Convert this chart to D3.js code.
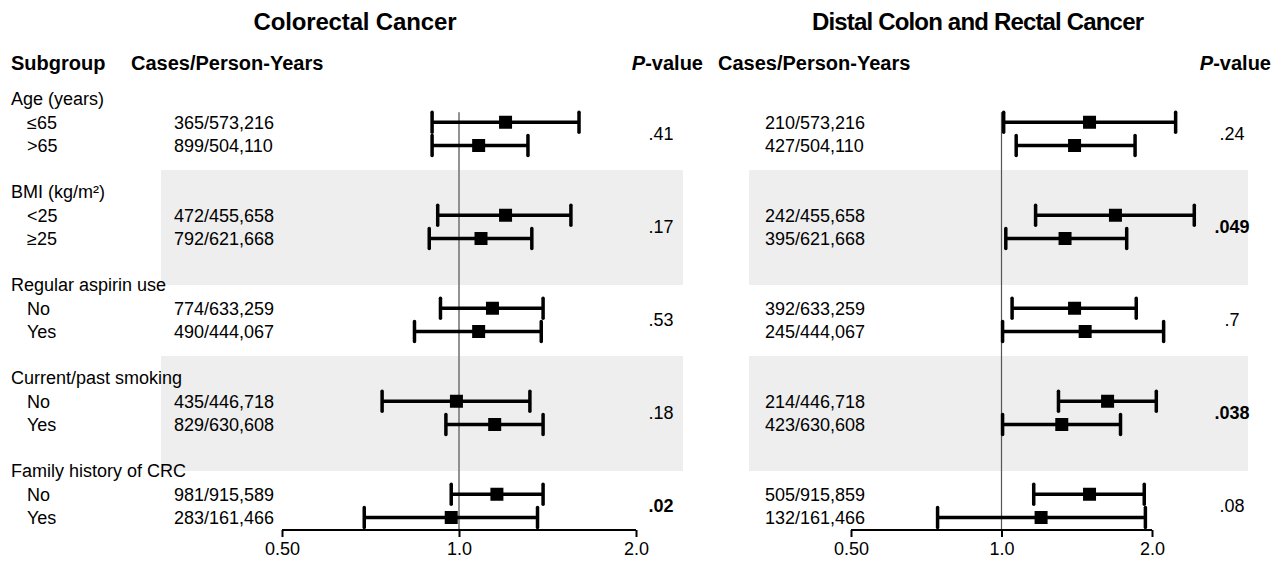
<!DOCTYPE html>
<html>
<head>
<meta charset="utf-8">
<script src="https://cdn.jsdelivr.net/npm/d3@7"></script>
<style>
    body { margin: 0; background: #fff; }
    svg text { font-family: "Liberation Sans", Arial, Helvetica, sans-serif; fill: #000; }
</style>
</head>
<body>
<div id="chart"></div>
<script>
// subgroup labels
var groupNames = ["Age (years)", "BMI (kg/m\u00b2)", "Regular aspirin use", "Current/past smoking", "Family history of CRC"];
var levelNames = [["\u226465", ">65"], ["<25", "\u226525"], ["No", "Yes"], ["No", "Yes"], ["No", "Yes"]];

// colorectal cancer
var crcCases = ["365/573,216", "899/504,110", "472/455,658", "792/621,668", "774/633,259",
    "490/444,067", "435/446,718", "829/630,608", "981/915,589", "283/161,466"];
var crcHR = [1.20, 1.08, 1.20, 1.09, 1.14, 1.08, 0.99, 1.15, 1.16, 0.97];
var crcLower = [0.90, 0.90, 0.92, 0.89, 0.93, 0.84, 0.74, 0.95, 0.97, 0.69];
var crcUpper = [1.60, 1.31, 1.55, 1.33, 1.39, 1.38, 1.32, 1.39, 1.39, 1.36];
var crcP = [".41", ".17", ".53", ".18", ".02"];
var crcPBold = [false, false, false, false, true];

// distal colon and rectal cancer
var distalCases = ["210/573,216", "427/504,110", "242/455,658", "395/621,668", "392/633,259",
    "245/444,067", "214/446,718", "423/630,608", "505/915,859", "132/161,466"];
var distalHR = [1.50, 1.40, 1.69, 1.34, 1.40, 1.47, 1.63, 1.32, 1.50, 1.20];
var distalLower = [1.01, 1.07, 1.17, 1.02, 1.05, 1.005, 1.30, 1.005, 1.16, 0.745];
var distalUpper = [2.23, 1.85, 2.43, 1.78, 1.86, 2.11, 2.04, 1.73, 1.93, 1.94];
var distalP = [".24", ".049", ".7", ".038", ".08"];
var distalPBold = [false, true, false, true, false];

var tickValues = [0.5, 1, 2];
var tickLabels = ["0.50", "1.0", "2.0"];

var width = 1277, height = 562;

var svg = d3.select("#chart").append("svg")
    .attr("width", width)
    .attr("height", height);

// every group takes 4 slots: header, two levels, gap
var y = d3.scaleLinear()
    .domain([0, 18])
    .range([99, 99 + 23.25 * 18]);

function levelSlot(i) {
    return Math.floor(i / 2) * 4 + 1 + (i % 2);
}

var axisY = 530;

// grey bands behind BMI and smoking groups
function drawBands(x0, x1) {
    [1, 3].forEach(function (g) {
        svg.append("rect")
            .attr("x", x0)
            .attr("y", y(g * 4) - 22)
            .attr("width", x1 - x0)
            .attr("height", y(g * 4 + 4) - y(g * 4) + 22)
            .style("fill", "#eeeeee");
    });
}
drawBands(161, 683);
drawBands(749, 1248);

// subgroup column
svg.append("text")
    .attr("x", 11).attr("y", 70)
    .style("font-size", "20px").style("font-weight", "bold")
    .text("Subgroup");

groupNames.forEach(function (name, g) {
    svg.append("text")
        .attr("x", 11)
        .attr("y", y(g * 4))
        .attr("dy", "0.35em")
        .style("font-size", "18px")
        .text(name);
    levelNames[g].forEach(function (lev, k) {
        svg.append("text")
            .attr("x", 27)
            .attr("y", y(g * 4 + 1 + k))
            .attr("dy", "0.35em")
            .style("font-size", "18px")
            .text(lev);
    });
});

function drawPanel(opts) {
    var x = d3.scaleLog()
        .domain([0.5, 2])
        .range(opts.range);

    svg.append("text")
        .attr("x", opts.titleX).attr("y", 30)
        .attr("text-anchor", "middle")
        .attr("textLength", opts.titleWidth)
        .style("font-size", "24px").style("font-weight", "bold")
        .text(opts.title);

    svg.append("text")
        .attr("x", opts.casesHeadX).attr("y", 70)
        .style("font-size", "20px").style("font-weight", "bold")
        .text("Cases/Person-Years");

    var pHead = svg.append("text")
        .attr("x", opts.pHeadX).attr("y", 70)
        .attr("text-anchor", "end")
        .style("font-size", "20px").style("font-weight", "bold");
    pHead.append("tspan").style("font-style", "italic").text("P");
    pHead.append("tspan").text("-value");

    // cases / person-years
    svg.selectAll(null)
        .data(opts.cases)
        .enter().append("text")
        .attr("x", opts.casesX)
        .attr("y", function (d, i) { return y(levelSlot(i)); })
        .attr("dy", "0.35em")
        .style("font-size", "18px")
        .text(function (d) { return d; });

    // p-values
    svg.selectAll(null)
        .data(opts.p)
        .enter().append("text")
        .attr("x", opts.pX)
        .attr("y", function (d, g) { return (y(g * 4 + 1) + y(g * 4 + 2)) / 2; })
        .attr("dy", "0.35em")
        .attr("text-anchor", "middle")
        .style("font-size", "18px")
        .style("font-weight", function (d, g) { return opts.pBold[g] ? "bold" : "normal"; })
        .text(function (d) { return d; });

    // reference line at 1
    svg.append("line")
        .attr("x1", x(1)).attr("x2", x(1))
        .attr("y1", y(1) - 10).attr("y2", axisY)
        .style("stroke", opts.refColor)
        .style("stroke-width", opts.refWidth);

    var rows = opts.hr.map(function (d, i) {
        return {hr: d, lo: opts.lower[i], hi: opts.upper[i], slot: levelSlot(i)};
    });

    var ci = svg.selectAll(null)
        .data(rows)
        .enter().append("g")
        .attr("transform", function (d) { return "translate(0," + y(d.slot) + ")"; });

    ci.append("line")
        .attr("x1", function (d) { return x(d.lo); })
        .attr("x2", function (d) { return x(d.hi); })
        .style("stroke", "#000").style("stroke-width", 3.5);

    ci.append("line")
        .attr("x1", function (d) { return x(d.lo); })
        .attr("x2", function (d) { return x(d.lo); })
        .attr("y1", -10).attr("y2", 10)
        .style("stroke", "#000").style("stroke-width", 3.5)
        .style("stroke-linecap", "round");

    ci.append("line")
        .attr("x1", function (d) { return x(d.hi); })
        .attr("x2", function (d) { return x(d.hi); })
        .attr("y1", -10).attr("y2", 10)
        .style("stroke", "#000").style("stroke-width", 3.5)
        .style("stroke-linecap", "round");

    ci.append("rect")
        .attr("x", function (d) { return x(d.hr) - 6.5; })
        .attr("y", -6.5)
        .attr("width", 13).attr("height", 13)
        .style("fill", "#000");

    // axis
    var axis = d3.axisBottom(x)
        .tickValues(tickValues)
        .tickSize(7)
        .tickFormat(function (d, i) { return tickLabels[i]; });

    var gAxis = svg.append("g")
        .attr("transform", "translate(0," + axisY + ")")
        .call(axis);
    gAxis.select(".domain")
        .attr("d", "M" + x(0.5) + ",0H" + x(2))
        .style("stroke", "#000").style("stroke-width", 2);
    gAxis.selectAll(".tick line").style("stroke", "#000").style("stroke-width", 2);
    gAxis.selectAll(".tick text")
        .attr("y", 12)
        .style("font-size", "18px")
        .style("font-family", "'Liberation Sans', Arial, sans-serif");
}

drawPanel({
    title: "Colorectal Cancer", titleX: 355, titleWidth: 203,
    casesHeadX: 131, casesX: 174,
    pHeadX: 703, pX: 661,
    range: [282, 636], refWidth: 1.6, refColor: "#777",
    cases: crcCases, hr: crcHR, lower: crcLower, upper: crcUpper,
    p: crcP, pBold: crcPBold
});

drawPanel({
    title: "Distal Colon and Rectal Cancer", titleX: 978, titleWidth: 332,
    casesHeadX: 718, casesX: 765,
    pHeadX: 1271, pX: 1232,
    range: [851, 1152], refWidth: 1.2, refColor: "#555",
    cases: distalCases, hr: distalHR, lower: distalLower, upper: distalUpper,
    p: distalP, pBold: distalPBold
});
</script>
</body>
</html>
